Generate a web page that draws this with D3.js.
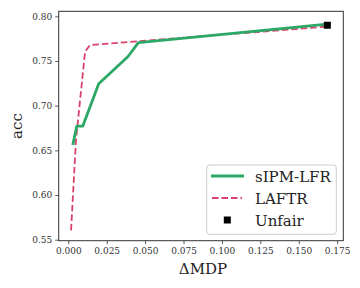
<!DOCTYPE html>
<html><head><meta charset="utf-8">
<script src="https://cdn.jsdelivr.net/npm/d3@7"></script>
<style>body{margin:0;background:#fff}svg{display:block}</style>
</head><body>
<script>
const sipmX = [0.0029, 0.0055, 0.0094, 0.0198, 0.0389, 0.0456, 0.1686];
const sipmY = [0.656, 0.677, 0.677, 0.7245, 0.755, 0.7705, 0.7912];
const laftrX = [0.0018, 0.0050, 0.0109, 0.0141, 0.1686];
const laftrY = [0.5605, 0.6615, 0.7604, 0.7679, 0.7886];
const unfairX = [0.1686];
const unfairY = [0.7900];
const xTicks = [0.000, 0.025, 0.050, 0.075, 0.100, 0.125, 0.150, 0.175];
const yTicks = [0.55, 0.60, 0.65, 0.70, 0.75, 0.80];
const legendLabels = ["sIPM-LFR", "LAFTR", "Unfair"];

const W = 360, H = 288;
const L = 58.7, R = 343.3, T = 11.3, B = 240.7;
const svg = d3.select("body").append("svg").attr("width", W).attr("height", H);
const x = d3.scaleLinear().domain([-0.00625, 0.179]).range([L, R]);
const y = d3.scaleLinear().domain([0.5489, 0.8056]).range([B, T]);
const font = "DejaVu Serif";

const xa = svg.append("g").attr("transform", `translate(0,${B})`)
  .call(d3.axisBottom(x).tickValues(xTicks).tickFormat(d3.format(".3f")).tickSizeOuter(0).tickSize(3.5).tickPadding(3));
const ya = svg.append("g").attr("transform", `translate(${L},0)`)
  .call(d3.axisLeft(y).tickValues(yTicks).tickFormat(d3.format(".2f")).tickSizeOuter(0).tickSize(3.5).tickPadding(3));
[xa, ya].forEach(a => {
  a.select(".domain").remove();
  a.selectAll("line").attr("stroke", "#333").attr("stroke-width", 0.8);
  a.selectAll("text").attr("font-family", font).attr("font-size", 9).attr("fill", "#333");
});
svg.append("rect").attr("x", L).attr("y", T).attr("width", R - L).attr("height", B - T)
  .attr("fill", "none").attr("stroke", "#333").attr("stroke-width", 1);

const line = d3.line().x(d => x(d[0])).y(d => y(d[1]));
svg.append("path").datum(laftrX.map((v, i) => [v, laftrY[i]])).attr("d", line)
  .attr("fill", "none").attr("stroke", "#d9426a").attr("stroke-width", 1.8).attr("stroke-dasharray", "6.5,3");
svg.append("path").datum(sipmX.map((v, i) => [v, sipmY[i]])).attr("d", line)
  .attr("fill", "none").attr("stroke", "#2ca866").attr("stroke-width", 2.8).attr("stroke-linejoin", "round");
svg.selectAll(".unf").data(unfairX.map((v, i) => [v, unfairY[i]])).enter().append("rect")
  .attr("x", d => x(d[0]) - 3.5).attr("y", d => y(d[1]) - 3.5).attr("width", 7).attr("height", 7).attr("fill", "#000");

// axis labels
svg.append("text").attr("x", (L + R) / 2 + 2).attr("y", 274).attr("text-anchor", "middle")
  .attr("font-family", font).attr("font-size", 15).attr("fill", "#222").text("ΔMDP");
svg.append("text").attr("transform", `translate(22,${(T + B) / 2}) rotate(-90)`).attr("text-anchor", "middle")
  .attr("font-family", font).attr("font-size", 15).attr("fill", "#222").text("acc");

// legend
const lg = svg.append("g");
lg.append("rect").attr("x", 206.7).attr("y", 165).attr("width", 129.6).attr("height", 69.3).attr("rx", 3)
  .attr("fill", "#fff").attr("fill-opacity", 0.8).attr("stroke", "#ccc").attr("stroke-width", 1);
const rows = [176, 198, 220];
lg.append("line").attr("x1", 211).attr("x2", 244).attr("y1", rows[0]).attr("y2", rows[0])
  .attr("stroke", "#2ca866").attr("stroke-width", 2.8);
lg.append("line").attr("x1", 212).attr("x2", 242).attr("y1", rows[1]).attr("y2", rows[1])
  .attr("stroke", "#d9426a").attr("stroke-width", 1.8).attr("stroke-dasharray", "6.5,3");
lg.append("rect").attr("x", 227.3 - 3.5).attr("y", rows[2] - 3.5).attr("width", 7).attr("height", 7).attr("fill", "#000");
legendLabels.forEach((t, i) => {
  lg.append("text").attr("x", 255).attr("y", rows[i] + 5.5).attr("font-family", font).attr("font-size", 15)
    .attr("fill", "#222").text(t);
});
</script>
</body></html>
